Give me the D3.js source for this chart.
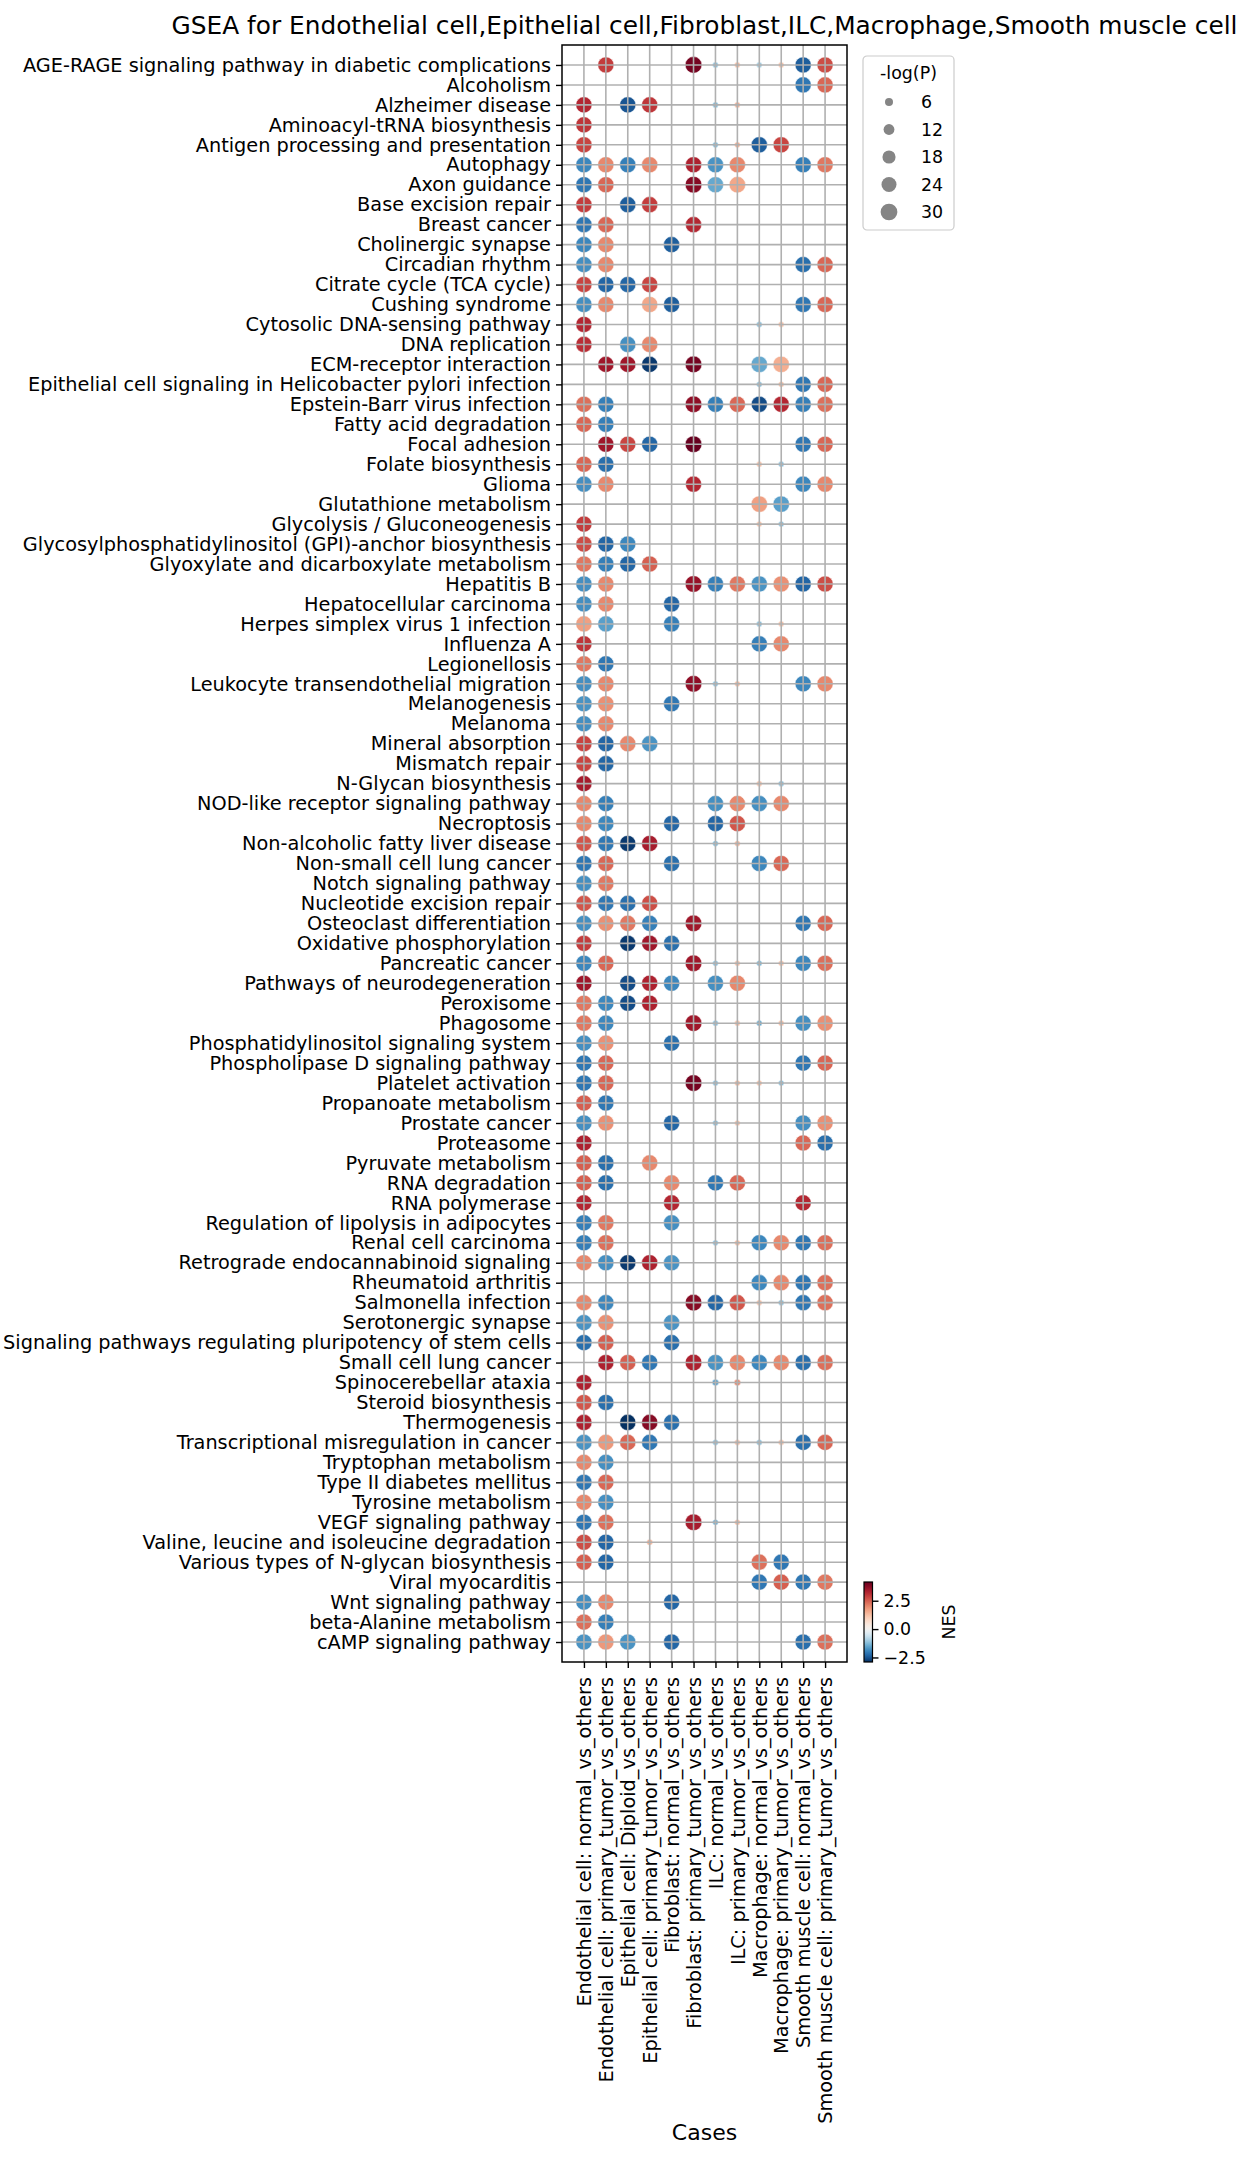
<!DOCTYPE html>
<html>
<head>
<meta charset="utf-8">
<script src="https://cdn.jsdelivr.net/npm/d3@7"></script>
<style>
body { margin: 0; background: #fff; }
svg { display: block; font-family: "DejaVu Sans", sans-serif; }
</style>
</head>
<body>
<svg></svg>
<script>
const _ = null;

const cases = [
	'Endothelial cell: normal_vs_others',
	'Endothelial cell: primary_tumor_vs_others',
	'Epithelial cell: Diploid_vs_others',
	'Epithelial cell: primary_tumor_vs_others',
	'Fibroblast: normal_vs_others',
	'Fibroblast: primary_tumor_vs_others',
	'ILC: normal_vs_others',
	'ILC: primary_tumor_vs_others',
	'Macrophage: normal_vs_others',
	'Macrophage: primary_tumor_vs_others',
	'Smooth muscle cell: normal_vs_others',
	'Smooth muscle cell: primary_tumor_vs_others'
];

const pathways = [
	'AGE-RAGE signaling pathway in diabetic complications',
	'Alcoholism',
	'Alzheimer disease',
	'Aminoacyl-tRNA biosynthesis',
	'Antigen processing and presentation',
	'Autophagy',
	'Axon guidance',
	'Base excision repair',
	'Breast cancer',
	'Cholinergic synapse',
	'Circadian rhythm',
	'Citrate cycle (TCA cycle)',
	'Cushing syndrome',
	'Cytosolic DNA-sensing pathway',
	'DNA replication',
	'ECM-receptor interaction',
	'Epithelial cell signaling in Helicobacter pylori infection',
	'Epstein-Barr virus infection',
	'Fatty acid degradation',
	'Focal adhesion',
	'Folate biosynthesis',
	'Glioma',
	'Glutathione metabolism',
	'Glycolysis / Gluconeogenesis',
	'Glycosylphosphatidylinositol (GPI)-anchor biosynthesis',
	'Glyoxylate and dicarboxylate metabolism',
	'Hepatitis B',
	'Hepatocellular carcinoma',
	'Herpes simplex virus 1 infection',
	'Influenza A',
	'Legionellosis',
	'Leukocyte transendothelial migration',
	'Melanogenesis',
	'Melanoma',
	'Mineral absorption',
	'Mismatch repair',
	'N-Glycan biosynthesis',
	'NOD-like receptor signaling pathway',
	'Necroptosis',
	'Non-alcoholic fatty liver disease',
	'Non-small cell lung cancer',
	'Notch signaling pathway',
	'Nucleotide excision repair',
	'Osteoclast differentiation',
	'Oxidative phosphorylation',
	'Pancreatic cancer',
	'Pathways of neurodegeneration',
	'Peroxisome',
	'Phagosome',
	'Phosphatidylinositol signaling system',
	'Phospholipase D signaling pathway',
	'Platelet activation',
	'Propanoate metabolism',
	'Prostate cancer',
	'Proteasome',
	'Pyruvate metabolism',
	'RNA degradation',
	'RNA polymerase',
	'Regulation of lipolysis in adipocytes',
	'Renal cell carcinoma',
	'Retrograde endocannabinoid signaling',
	'Rheumatoid arthritis',
	'Salmonella infection',
	'Serotonergic synapse',
	'Signaling pathways regulating pluripotency of stem cells',
	'Small cell lung cancer',
	'Spinocerebellar ataxia',
	'Steroid biosynthesis',
	'Thermogenesis',
	'Transcriptional misregulation in cancer',
	'Tryptophan metabolism',
	'Type II diabetes mellitus',
	'Tyrosine metabolism',
	'VEGF signaling pathway',
	'Valine, leucine and isoleucine degradation',
	'Various types of N-glycan biosynthesis',
	'Viral myocarditis',
	'Wnt signaling pathway',
	'beta-Alanine metabolism',
	'cAMP signaling pathway'
];

// NES, one row per pathway, one column per case
const nes = [
	[_, 2.9, _, _, _, 4.0, -1.2, 1.3, -1.0, 1.2, -2.4, 2.7],
	[_, _, _, _, _, _, _, _, _, _, -2.1, 2.4],
	[3.2, _, -2.5, 3.0, _, _, -1.3, 1.5, _, _, _, _],
	[3.0, _, _, _, _, _, _, _, _, _, _, _],
	[2.8, _, _, _, _, _, -1.3, 1.5, -2.4, 2.8, _, _],
	[-1.9, 2.0, -2.0, 2.0, _, 3.3, -1.75, 2.0, _, _, -2.0, 2.2],
	[-2.1, 2.4, _, _, _, 3.8, -1.5, 1.6, _, _, _, _],
	[2.9, _, -2.4, 2.9, _, _, _, _, _, _, _, _],
	[-2.1, 2.4, _, _, _, 3.2, _, _, _, _, _, _],
	[-1.9, 2.0, _, _, -2.4, _, _, _, _, _, _, _],
	[-1.8, 2.0, _, _, _, _, _, _, _, _, -2.2, 2.4],
	[2.8, -2.3, -2.3, 2.8, _, _, _, _, _, _, _, _],
	[-1.8, 2.0, _, 1.6, -2.4, _, _, _, _, _, -2.1, 2.4],
	[3.2, _, _, _, _, _, _, _, -1.2, 1.2, _, _],
	[3.1, _, -1.8, 2.0, _, _, _, _, _, _, _, _],
	[_, 3.5, 3.5, -2.8, _, 4.0, _, _, -1.5, 1.5, _, _],
	[_, _, _, _, _, _, _, _, -1.2, 1.3, -2.1, 2.4],
	[2.3, -2.0, _, _, _, 3.7, -2.0, 2.4, -2.6, 3.2, -2.0, 2.3],
	[2.4, -2.0, _, _, _, _, _, _, _, _, _, _],
	[_, 3.5, 2.8, -2.3, _, 4.15, _, _, _, _, -2.1, 2.4],
	[2.4, -2.2, _, _, _, _, _, _, 1.2, -1.2, _, _],
	[-1.8, 2.0, _, _, _, 3.2, _, _, _, _, -1.9, 2.0],
	[_, _, _, _, _, _, _, _, 1.7, -1.6, _, _],
	[2.9, _, _, _, _, _, _, _, 1.2, -1.2, _, _],
	[2.7, -2.3, -1.9, _, _, _, _, _, _, _, _, _],
	[2.2, -2.0, -2.3, 2.5, _, _, _, _, _, _, _, _],
	[-1.8, 2.0, _, _, _, 3.6, -2.0, 2.2, -1.75, 1.9, -2.3, 2.7],
	[-1.8, 2.0, _, _, -2.3, _, _, _, _, _, _, _],
	[1.7, -1.6, _, _, -2.0, _, _, _, -1.2, 1.2, _, _],
	[3.0, _, _, _, _, _, _, _, -2.0, 2.0, _, _],
	[2.2, -2.1, _, _, _, _, _, _, _, _, _, _],
	[-1.8, 2.0, _, _, _, 3.7, -1.2, 1.3, _, _, -1.9, 2.0],
	[-1.75, 1.9, _, _, -2.1, _, _, _, _, _, _, _],
	[-1.8, 2.0, _, _, _, _, _, _, _, _, _, _],
	[2.8, -2.3, 2.0, -1.75, _, _, _, _, _, _, _, _],
	[2.8, -2.3, _, _, _, _, _, _, _, _, _, _],
	[3.4, _, _, _, _, _, _, _, 1.2, -1.2, _, _],
	[2.0, -2.0, _, _, _, _, -1.8, 2.0, -1.8, 2.0, _, _],
	[2.0, -1.9, _, _, -2.3, _, -2.3, 2.6, _, _, _, _],
	[2.6, -2.1, -2.8, 3.4, _, _, -1.3, 1.4, _, _, _, _],
	[-2.1, 2.4, _, _, -2.2, _, _, _, -1.9, 2.4, _, _],
	[-1.8, 2.2, _, _, _, _, _, _, _, _, _, _],
	[2.6, -2.1, -2.2, 2.7, _, _, _, _, _, _, _, _],
	[-1.8, 1.9, 2.2, -2.0, _, 3.5, _, _, _, _, -2.1, 2.4],
	[2.9, _, -2.8, 3.5, -2.2, _, _, _, _, _, _, _],
	[-1.9, 2.4, _, _, _, 3.5, -1.2, 1.2, -1.3, 1.2, -1.9, 2.3],
	[3.5, _, -2.6, 3.3, -1.9, _, -1.8, 2.0, _, _, _, _],
	[2.2, -1.9, -2.6, 3.3, _, _, _, _, _, _, _, _],
	[2.2, -1.9, _, _, _, 3.5, -1.2, 1.2, -1.5, 1.3, -1.8, 1.9],
	[-1.8, 1.9, _, _, -2.2, _, _, _, _, _, _, _],
	[-2.1, 2.4, _, _, _, _, _, _, _, _, -2.1, 2.4],
	[-2.1, 2.4, _, _, _, 4.0, -1.2, 1.3, 1.2, -1.2, _, _],
	[2.5, -2.1, _, _, _, _, _, _, _, _, _, _],
	[-1.8, 1.9, _, _, -2.3, _, -1.2, 1.2, _, _, -1.8, 1.9],
	[3.3, _, _, _, _, _, _, _, _, _, 2.4, -2.2],
	[2.5, -2.2, _, 2.0, _, _, _, _, _, _, _, _],
	[2.5, -2.2, _, _, 2.0, _, -2.1, 2.4, _, _, _, _],
	[3.2, _, _, _, 3.2, _, _, _, _, _, 3.2, _],
	[-2.0, 2.2, _, _, -1.8, _, _, _, _, _, _, _],
	[-2.0, 2.3, _, _, _, _, -1.2, 1.3, -1.9, 2.0, -2.1, 2.3],
	[2.0, -1.8, -2.8, 3.3, -1.75, _, _, _, _, _, _, _],
	[_, _, _, _, _, _, _, _, -1.9, 2.0, -2.1, 2.3],
	[2.0, -1.9, _, _, _, 3.8, -2.3, 2.6, 1.2, -1.2, -2.1, 2.3],
	[-1.75, 1.9, _, _, -1.75, _, _, _, _, _, _, _],
	[-2.2, 2.5, _, _, -2.2, _, _, _, _, _, _, _],
	[_, 3.3, 2.5, -2.1, _, 3.3, -1.75, 2.0, -1.9, 2.0, -2.2, 2.3],
	[3.3, _, _, _, _, _, -1.6, 2.0, _, _, _, _],
	[2.6, -2.2, _, _, _, _, _, _, _, _, _, _],
	[3.3, _, -2.9, 3.8, -2.2, _, _, _, _, _, _, _],
	[-1.75, 1.8, 2.4, -2.1, _, _, -1.2, 1.2, -1.2, 1.2, -2.2, 2.4],
	[2.0, -1.8, _, _, _, _, _, _, _, _, _, _],
	[-2.1, 2.4, _, _, _, _, _, _, _, _, _, _],
	[2.0, -1.8, _, _, _, _, _, _, _, _, _, _],
	[-2.1, 2.3, _, _, _, 3.4, -1.4, 1.3, _, _, _, _],
	[2.7, -2.3, _, 1.4, _, _, _, _, _, _, _, _],
	[2.5, -2.3, _, _, _, _, _, _, 2.3, -2.1, _, _],
	[_, _, _, _, _, _, _, _, -2.1, 2.5, -2.1, 2.2],
	[-1.8, 2.0, _, _, -2.3, _, _, _, _, _, _, _],
	[2.3, -2.0, _, _, _, _, _, _, _, _, _, _],
	[-1.75, 1.8, -1.75, _, -2.3, _, _, _, _, _, -2.2, 2.3]
];

// -log(P), same layout as nes
const logp = [
	[_, 28, _, _, _, 30, 2.5, 2.5, 2.5, 2.5, 28, 28],
	[_, _, _, _, _, _, _, _, _, _, 28, 28],
	[28, _, 28, 28, _, _, 2.5, 2.5, _, _, _, _],
	[28, _, _, _, _, _, _, _, _, _, _, _],
	[28, _, _, _, _, _, 2.5, 2.5, 28, 28, _, _],
	[28, 28, 28, 28, _, 28, 28, 28, _, _, 28, 28],
	[28, 28, _, _, _, 30, 28, 29, _, _, _, _],
	[28, _, 28, 28, _, _, _, _, _, _, _, _],
	[28, 28, _, _, _, 28, _, _, _, _, _, _],
	[28, 28, _, _, 28, _, _, _, _, _, _, _],
	[28, 28, _, _, _, _, _, _, _, _, 28, 28],
	[28, 28, 28, 28, _, _, _, _, _, _, _, _],
	[28, 28, _, 28, 28, _, _, _, _, _, 28, 28],
	[28, _, _, _, _, _, _, _, 2.5, 2.5, _, _],
	[28, _, 28, 28, _, _, _, _, _, _, _, _],
	[_, 28, 28, 28, _, 30, _, _, 29, 29, _, _],
	[_, _, _, _, _, _, _, _, 2.5, 2.5, 28, 28],
	[28, 28, _, _, _, 30, 28, 28, 28, 28, 28, 28],
	[28, 28, _, _, _, _, _, _, _, _, _, _],
	[_, 28, 28, 28, _, 30, _, _, _, _, 28, 28],
	[28, 28, _, _, _, _, _, _, 2.5, 2.5, _, _],
	[28, 28, _, _, _, 28, _, _, _, _, 28, 28],
	[_, _, _, _, _, _, _, _, 29, 29, _, _],
	[28, _, _, _, _, _, _, _, 2.5, 2.5, _, _],
	[28, 28, 28, _, _, _, _, _, _, _, _, _],
	[28, 28, 28, 28, _, _, _, _, _, _, _, _],
	[28, 28, _, _, _, 30, 28, 28, 28, 28, 28, 28],
	[28, 28, _, _, 28, _, _, _, _, _, _, _],
	[28, 28, _, _, 28, _, _, _, 2.5, 2.5, _, _],
	[28, _, _, _, _, _, _, _, 28, 28, _, _],
	[28, 28, _, _, _, _, _, _, _, _, _, _],
	[28, 28, _, _, _, 30, 2.5, 2.5, _, _, 28, 28],
	[28, 28, _, _, 28, _, _, _, _, _, _, _],
	[28, 28, _, _, _, _, _, _, _, _, _, _],
	[28, 28, 28, 28, _, _, _, _, _, _, _, _],
	[28, 28, _, _, _, _, _, _, _, _, _, _],
	[28, _, _, _, _, _, _, _, 2.5, 2.5, _, _],
	[28, 28, _, _, _, _, 28, 28, 28, 28, _, _],
	[28, 28, _, _, 28, _, 28, 28, _, _, _, _],
	[28, 28, 28, 28, _, _, 2.5, 2.5, _, _, _, _],
	[28, 28, _, _, 28, _, _, _, 28, 28, _, _],
	[28, 28, _, _, _, _, _, _, _, _, _, _],
	[28, 28, 28, 28, _, _, _, _, _, _, _, _],
	[28, 28, 28, 28, _, 30, _, _, _, _, 28, 28],
	[28, _, 28, 28, 28, _, _, _, _, _, _, _],
	[28, 28, _, _, _, 30, 2.5, 2.5, 2.5, 2.5, 28, 28],
	[28, _, 28, 28, 28, _, 28, 28, _, _, _, _],
	[28, 28, 28, 28, _, _, _, _, _, _, _, _],
	[28, 28, _, _, _, 30, 2.5, 2.5, 2.5, 2.5, 28, 28],
	[28, 28, _, _, 28, _, _, _, _, _, _, _],
	[28, 28, _, _, _, _, _, _, _, _, 28, 28],
	[28, 28, _, _, _, 30, 2.5, 2.5, 2.5, 2.5, _, _],
	[28, 28, _, _, _, _, _, _, _, _, _, _],
	[28, 28, _, _, 28, _, 2.5, 2.5, _, _, 28, 28],
	[28, _, _, _, _, _, _, _, _, _, 28, 28],
	[28, 28, _, 28, _, _, _, _, _, _, _, _],
	[28, 28, _, _, 28, _, 28, 28, _, _, _, _],
	[28, _, _, _, 28, _, _, _, _, _, 28, _],
	[28, 28, _, _, 28, _, _, _, _, _, _, _],
	[28, 28, _, _, _, _, 2.5, 2.5, 28, 28, 28, 28],
	[28, 28, 28, 28, 28, _, _, _, _, _, _, _],
	[_, _, _, _, _, _, _, _, 28, 28, 28, 28],
	[28, 28, _, _, _, 30, 28, 28, 2.5, 2.5, 28, 28],
	[28, 28, _, _, 28, _, _, _, _, _, _, _],
	[28, 28, _, _, 28, _, _, _, _, _, _, _],
	[_, 28, 28, 28, _, 30, 28, 28, 28, 28, 28, 28],
	[28, _, _, _, _, _, 3.5, 3.5, _, _, _, _],
	[28, 28, _, _, _, _, _, _, _, _, _, _],
	[28, _, 28, 28, 28, _, _, _, _, _, _, _],
	[28, 28, 28, 28, _, _, 2.5, 2.5, 2.5, 2.5, 28, 28],
	[28, 28, _, _, _, _, _, _, _, _, _, _],
	[28, 28, _, _, _, _, _, _, _, _, _, _],
	[28, 28, _, _, _, _, _, _, _, _, _, _],
	[28, 28, _, _, _, 30, 2.5, 2.5, _, _, _, _],
	[28, 28, _, 3, _, _, _, _, _, _, _, _],
	[28, 28, _, _, _, _, _, _, 28, 28, _, _],
	[_, _, _, _, _, _, _, _, 28, 28, 28, 28],
	[28, 28, _, _, 28, _, _, _, _, _, _, _],
	[28, 28, _, _, _, _, _, _, _, _, _, _],
	[28, 28, 28, _, 28, _, _, _, _, _, 28, 28]
];

const sizeLegend = [6, 12, 18, 24, 30];
const nesTicks = [2.5, 0, -2.5];

const W = 1258;
const H = 2160;
const plot = {left: 562, right: 847, top: 45, bottom: 1662};
const gridColor = '#b0b0b0';
const tickFont = 19.3;
const smallFont = 17.4;

var svg = d3.select('svg').attr('width', W).attr('height', H);
svg.append('rect').attr('width', W).attr('height', H).attr('fill', '#fff');

var x = d3.scalePoint().domain(cases).range([plot.left, plot.right]).padding(1);
var y = d3.scalePoint().domain(pathways).range([plot.top, plot.bottom]).padding(1);

var color = d3.scaleDiverging()
	.domain([-2.9, 0, 4.15])
	.interpolator(t => d3.interpolateRdBu(1 - t));

// marker area in px^2
var area = d3.scaleLinear().domain([6, 30]).range([64, 279]);
function radius(v){
	return Math.sqrt(area(v))/2;
}

// long format cells
var cells = [];
pathways.forEach(function(p, i){
	cases.forEach(function(c, j){
		if(nes[i][j] != null){
			cells.push({p: p, c: c, nes: nes[i][j], lp: logp[i][j]});
		}
	});
});

// dots
svg.append('g').selectAll('circle')
	.data(cells).enter().append('circle')
	.attr('cx', d => x(d.c))
	.attr('cy', d => y(d.p))
	.attr('r', d => radius(d.lp))
	.attr('fill', d => color(d.nes))
	.attr('stroke', '#fff').attr('stroke-width', 0.5);

// grid on top of the dots
var grid = svg.append('g').attr('stroke', gridColor).attr('stroke-width', 1.6);
grid.selectAll('line.h').data(pathways).enter().append('line')
	.attr('x1', plot.left).attr('x2', plot.right)
	.attr('y1', d => y(d)).attr('y2', d => y(d));
grid.selectAll('line.v').data(cases).enter().append('line')
	.attr('y1', plot.top).attr('y2', plot.bottom)
	.attr('x1', d => x(d)).attr('x2', d => x(d));

// axes
var yAxis = d3.axisLeft(y).tickSize(6).tickPadding(5);
var gy = svg.append('g').attr('transform', `translate(${plot.left},0)`).call(yAxis);
gy.select('.domain').remove();
gy.selectAll('line').attr('stroke', '#000').attr('stroke-width', 1.4);
gy.selectAll('text').attr('font-size', tickFont).attr('fill', '#000')
	.attr('font-family', '"DejaVu Sans", sans-serif');

var xAxis = d3.axisBottom(x).tickSize(6);
var gx = svg.append('g').attr('transform', `translate(0,${plot.bottom})`).call(xAxis);
gx.select('.domain').remove();
gx.selectAll('line').attr('stroke', '#000').attr('stroke-width', 1.4);
gx.selectAll('text')
	.attr('font-size', tickFont).attr('fill', '#000')
	.attr('font-family', '"DejaVu Sans", sans-serif')
	.attr('text-anchor', 'end')
	.attr('y', 0).attr('dy', '0.35em')
	.attr('transform', 'translate(0,15) rotate(-90)');

svg.append('rect')
	.attr('x', plot.left).attr('y', plot.top)
	.attr('width', plot.right - plot.left).attr('height', plot.bottom - plot.top)
	.attr('fill', 'none').attr('stroke', '#000').attr('stroke-width', 1.5);

// title and axis label
svg.append('text')
	.attr('x', (plot.left + plot.right)/2).attr('y', 34)
	.attr('text-anchor', 'middle').attr('font-size', 24.8)
	.text('GSEA for Endothelial cell,Epithelial cell,Fibroblast,ILC,Macrophage,Smooth muscle cell');

svg.append('text')
	.attr('x', (plot.left + plot.right)/2).attr('y', 2140)
	.attr('text-anchor', 'middle').attr('font-size', 22)
	.text('Cases');

// size legend
var leg = svg.append('g').attr('transform', 'translate(863,56)');
leg.append('rect')
	.attr('width', 91).attr('height', 174).attr('rx', 4)
	.attr('fill', '#fff').attr('fill-opacity', 0.8)
	.attr('stroke', '#cccccc').attr('stroke-width', 1.2);
leg.append('text')
	.attr('x', 45.5).attr('y', 23).attr('text-anchor', 'middle')
	.attr('font-size', smallFont).text('-log(P)');
var item = leg.selectAll('g.item').data(sizeLegend).enter().append('g')
	.attr('transform', (d, i) => `translate(0,${46 + i*27.5})`);
item.append('circle').attr('cx', 26).attr('r', d => radius(d)).attr('fill', '#858585');
item.append('text').attr('x', 58).attr('dy', '0.35em').attr('font-size', smallFont).text(d => d);

// colorbar
var cb = {x: 864, w: 8.5, top: 1582, bottom: 1662};
var cbScale = d3.scaleLinear().domain([-2.9, 4.15]).range([cb.bottom, cb.top]);
var grad = svg.append('defs').append('linearGradient')
	.attr('id', 'nesgrad').attr('x1', 0).attr('x2', 0).attr('y1', 1).attr('y2', 0);
d3.range(0, 1.0001, 0.02).forEach(function(t){
	grad.append('stop')
		.attr('offset', t)
		.attr('stop-color', color(cbScale.domain()[0] + t*(cbScale.domain()[1] - cbScale.domain()[0])));
});
svg.append('rect')
	.attr('x', cb.x).attr('y', cb.top).attr('width', cb.w).attr('height', cb.bottom - cb.top)
	.attr('fill', 'url(#nesgrad)').attr('stroke', '#000').attr('stroke-width', 1.2);
var cbAxis = d3.axisRight(cbScale).tickValues(nesTicks).tickSize(6).tickPadding(5)
	.tickFormat(d => d3.format('.1f')(d).replace('-', '\u2212'));
var gcb = svg.append('g').attr('transform', `translate(${cb.x + cb.w},0)`).call(cbAxis);
gcb.select('.domain').remove();
gcb.selectAll('line').attr('stroke', '#000').attr('stroke-width', 1.4);
gcb.selectAll('text').attr('font-size', smallFont).attr('fill', '#000')
	.attr('font-family', '"DejaVu Sans", sans-serif');
svg.append('text')
	.attr('transform', `translate(955,${(cb.top + cb.bottom)/2}) rotate(-90)`)
	.attr('text-anchor', 'middle').attr('font-size', smallFont)
	.text('NES');
</script>
</body>
</html>
